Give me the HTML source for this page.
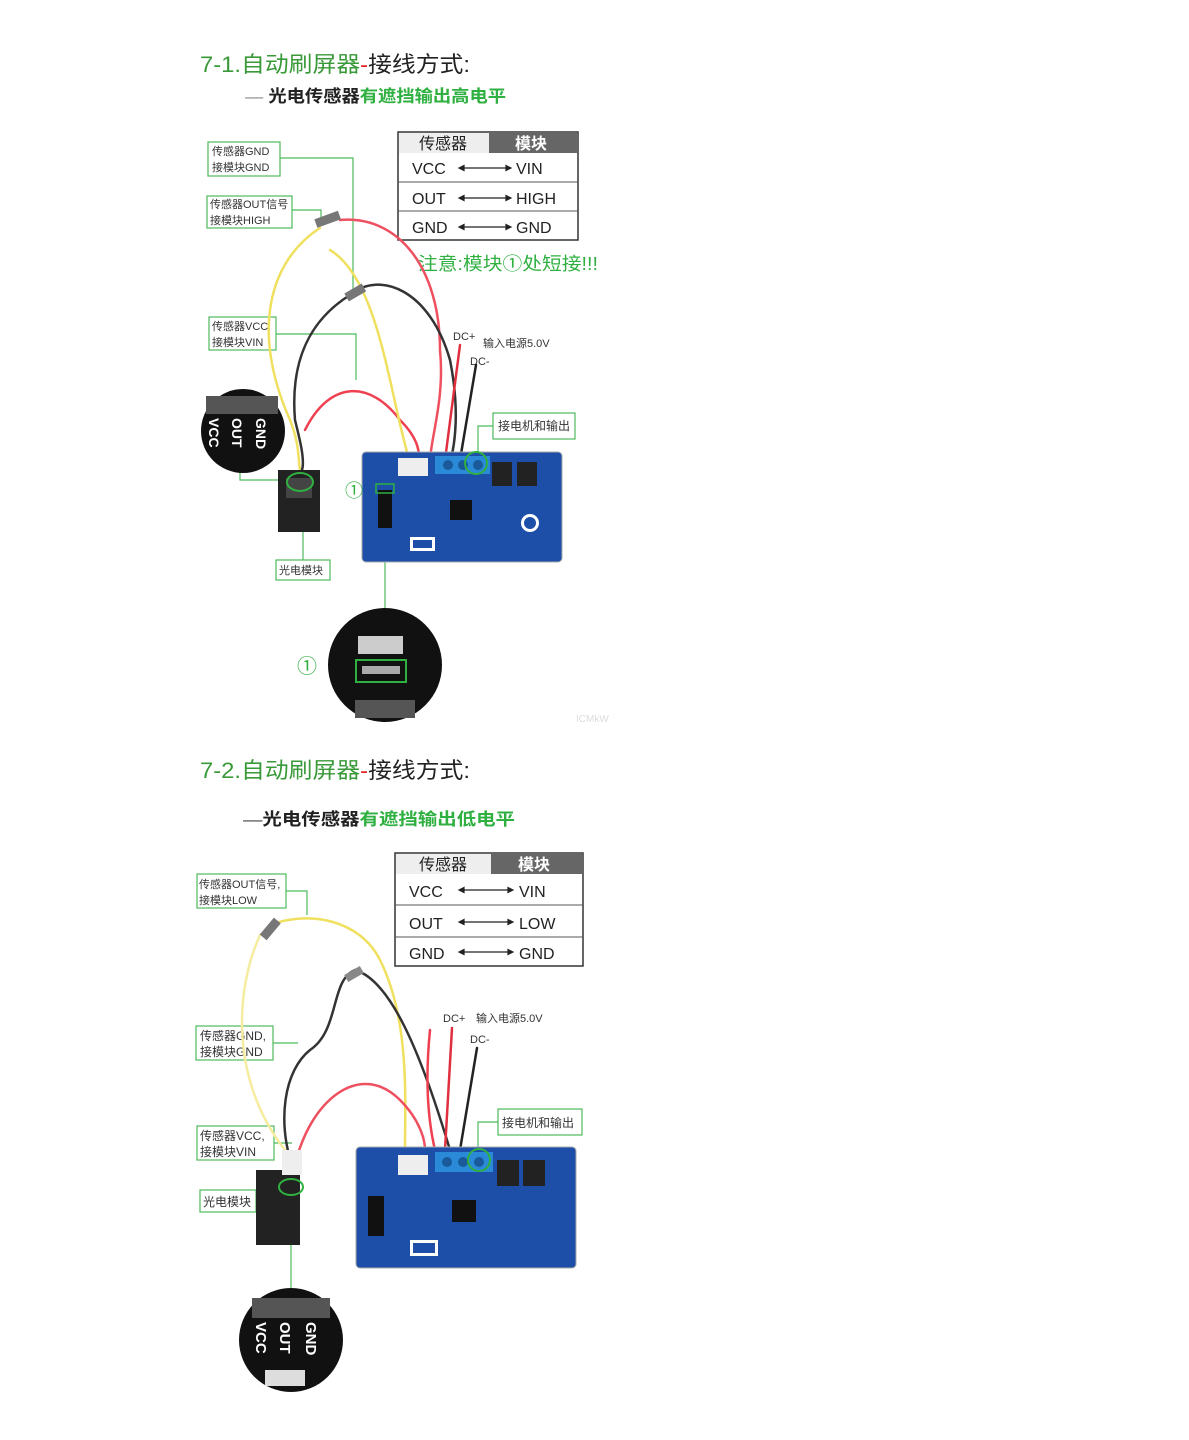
<!DOCTYPE html>
<html><head><meta charset="utf-8"><style>
body{margin:0;background:#fff;}
svg{display:block;}
text{font-family:"Liberation Sans","Noto Sans CJK SC",sans-serif;}
</style></head><body>
<svg width="1189" height="1440" viewBox="0 0 1189 1440" xmlns="http://www.w3.org/2000/svg">
<rect width="1189" height="1440" fill="#fff"/>

<!-- ===== Section 1 ===== -->
<text x="200" y="72" font-size="22" fill="#3a9a3a" textLength="270" lengthAdjust="spacingAndGlyphs">7-1.自动刷屏器<tspan fill="#e02020">-</tspan><tspan fill="#222">接线方式:</tspan></text>
<text x="245" y="102" font-size="17" font-weight="bold" fill="#222" textLength="261" lengthAdjust="spacingAndGlyphs"><tspan fill="#888" font-weight="normal">— </tspan>光电传感器<tspan fill="#2fb040">有遮挡输出高电平</tspan></text>

<rect x="398" y="132" width="180" height="108" fill="#fff" stroke="#333" stroke-width="1.5"/>
<rect x="399" y="133" width="90" height="20" fill="#eee"/>
<rect x="489" y="133" width="88" height="20" fill="#666"/>
<text x="443" y="149" font-size="16" text-anchor="middle" fill="#222">传感器</text>
<text x="531" y="149" font-size="16" text-anchor="middle" fill="#fff" font-weight="bold">模块</text>
<line x1="398" y1="182" x2="578" y2="182" stroke="#555"/>
<line x1="398" y1="211" x2="578" y2="211" stroke="#555"/>
<g font-size="16" fill="#222">
<text x="412" y="174">VCC</text><text x="516" y="174">VIN</text>
<text x="412" y="204">OUT</text><text x="516" y="204">HIGH</text>
<text x="412" y="233">GND</text><text x="516" y="233">GND</text>
</g>
<g stroke="#222" stroke-width="1.2" fill="#222">
<line x1="462" y1="168" x2="508" y2="168"/><path d="M459 168l5-2.5v5z M511 168l-5-2.5v5z"/>
<line x1="462" y1="198" x2="508" y2="198"/><path d="M459 198l5-2.5v5z M511 198l-5-2.5v5z"/>
<line x1="462" y1="227" x2="508" y2="227"/><path d="M459 227l5-2.5v5z M511 227l-5-2.5v5z"/>
</g>
<text x="418" y="270" font-size="18" fill="#2fb040" textLength="180" lengthAdjust="spacingAndGlyphs">注意:模块①处短接!!!</text>

<g fill="#fff" stroke="#4cbb5c" stroke-width="1.2">
<rect x="208" y="142" width="72" height="34"/>
<rect x="207" y="196" width="85" height="32"/>
<rect x="209" y="317" width="67" height="33"/>
<rect x="493" y="413" width="82" height="26"/>
<rect x="276" y="560" width="54" height="20"/>
</g>
<g fill="none" stroke="#4cbb5c" stroke-width="1.2">
<path d="M280 158H353V290"/>
<path d="M292 210H321V222"/>
<path d="M276 334H356V380"/>
<path d="M493 426H478V460"/>
<path d="M303 560V530"/>
<path d="M385 490V608"/>
<path d="M240 470V480H290"/>
</g>
<g font-size="11" fill="#333">
<text x="212" y="155">传感器GND</text><text x="212" y="171">接模块GND</text>
<text x="210" y="208">传感器OUT信号</text><text x="210" y="224">接模块HIGH</text>
<text x="212" y="330">传感器VCC</text><text x="212" y="346">接模块VIN</text>
<text x="498" y="430" font-size="12">接电机和输出</text>
<text x="279" y="574">光电模块</text>
<text x="453" y="340">DC+</text><text x="483" y="347">输入电源5.0V</text><text x="470" y="365">DC-</text>
</g>

<g fill="none" stroke-width="2.5" stroke-linecap="round">
<path d="M320 228C270 260 250 330 290 420C300 445 298 460 300 470" stroke="#f0e060"/>
<path d="M340 220C400 215 440 270 440 350C445 400 430 440 430 462" stroke="#ee5060"/>
<path d="M350 295C380 270 430 290 450 360C460 410 455 445 450 462" stroke="#333"/>
<path d="M350 295C310 320 290 360 295 420C300 440 305 460 302 470" stroke="#333"/>
<path d="M305 430C330 380 370 380 400 420C420 440 420 455 418 462" stroke="#ee4050"/>
<path d="M330 250C380 280 390 400 410 462" stroke="#f0e060"/>
<path d="M460 345L445 460" stroke="#e03040"/>
<path d="M476 365L460 460" stroke="#222"/>
</g>
<rect x="315" y="215" width="25" height="9" fill="#777" transform="rotate(-20 327 219)"/>
<rect x="345" y="288" width="20" height="9" fill="#777" transform="rotate(-30 355 292)"/>

<rect x="362" y="452" width="200" height="110" rx="4" fill="#1d4fa8" stroke="#aaa"/>
<rect x="435" y="456" width="55" height="18" fill="#2a8ad8"/>
<circle cx="448" cy="465" r="5" fill="#1a5a9a"/><circle cx="463" cy="465" r="5" fill="#1a5a9a"/><circle cx="478" cy="465" r="5" fill="#1a5a9a"/>
<rect x="398" y="458" width="30" height="18" fill="#eee"/>
<rect x="492" y="462" width="20" height="24" fill="#222"/><rect x="517" y="462" width="20" height="24" fill="#222"/>
<rect x="450" y="500" width="22" height="20" fill="#111"/>
<rect x="378" y="490" width="14" height="38" fill="#111"/>
<circle cx="530" cy="523" r="9" fill="#fff"/><circle cx="530" cy="523" r="6" fill="#1d4fa8"/>
<rect x="410" y="537" width="25" height="14" fill="#fff"/><rect x="413" y="540" width="19" height="8" fill="#1d4fa8"/>
<circle cx="476" cy="463" r="11" fill="none" stroke="#2fb040" stroke-width="2"/>
<rect x="376" y="484" width="18" height="9" fill="none" stroke="#2fb040" stroke-width="1.5"/>
<text x="345" y="497" font-size="18" fill="#2fb040">①</text>

<circle cx="243" cy="431" r="42" fill="#111"/>
<rect x="206" y="396" width="72" height="18" fill="#555"/>
<g font-size="14" font-weight="bold" fill="#fff" font-family="Liberation Serif,serif">
<text transform="translate(209 418) rotate(90)">VCC</text>
<text transform="translate(232 418) rotate(90)">OUT</text>
<text transform="translate(256 418) rotate(90)">GND</text>
</g>
<rect x="278" y="470" width="42" height="62" fill="#222"/>
<rect x="286" y="478" width="26" height="20" fill="#444"/>
<ellipse cx="300" cy="482" rx="13" ry="9" fill="none" stroke="#2fb040" stroke-width="2"/>

<circle cx="385" cy="665" r="57" fill="#111"/>
<rect x="358" y="636" width="45" height="18" fill="#ccc"/>
<rect x="356" y="660" width="50" height="22" fill="none" stroke="#2fb040" stroke-width="2"/>
<rect x="362" y="666" width="38" height="8" fill="#aaa"/>
<rect x="355" y="700" width="60" height="18" fill="#555"/>
<text x="297" y="673" font-size="20" fill="#2fb040">①</text>
<text x="576" y="722" font-size="10" fill="#ddd">ICMkW</text>

<!-- ===== Section 2 ===== -->
<text x="200" y="778" font-size="22" fill="#3a9a3a" textLength="270" lengthAdjust="spacingAndGlyphs">7-2.自动刷屏器<tspan fill="#e02020">-</tspan><tspan fill="#222">接线方式:</tspan></text>
<text x="243" y="825" font-size="17" font-weight="bold" fill="#222" textLength="272" lengthAdjust="spacingAndGlyphs"><tspan fill="#444" font-weight="normal">—</tspan>光电传感器<tspan fill="#2fb040">有遮挡输出低电平</tspan></text>

<rect x="395" y="853" width="188" height="113" fill="#fff" stroke="#333" stroke-width="1.5"/>
<rect x="396" y="854" width="95" height="20" fill="#eee"/>
<rect x="491" y="854" width="91" height="20" fill="#666"/>
<text x="443" y="870" font-size="16" text-anchor="middle" fill="#222">传感器</text>
<text x="534" y="870" font-size="16" text-anchor="middle" fill="#fff" font-weight="bold">模块</text>
<line x1="395" y1="905" x2="583" y2="905" stroke="#555"/>
<line x1="395" y1="937" x2="583" y2="937" stroke="#555"/>
<g font-size="16" fill="#222">
<text x="409" y="897">VCC</text><text x="519" y="897">VIN</text>
<text x="409" y="929">OUT</text><text x="519" y="929">LOW</text>
<text x="409" y="959">GND</text><text x="519" y="959">GND</text>
</g>
<g stroke="#222" stroke-width="1.2" fill="#222">
<line x1="462" y1="890" x2="510" y2="890"/><path d="M459 890l5-2.5v5z M513 890l-5-2.5v5z"/>
<line x1="462" y1="922" x2="510" y2="922"/><path d="M459 922l5-2.5v5z M513 922l-5-2.5v5z"/>
<line x1="462" y1="952" x2="510" y2="952"/><path d="M459 952l5-2.5v5z M513 952l-5-2.5v5z"/>
</g>

<g fill="#fff" stroke="#4cbb5c" stroke-width="1.2">
<rect x="197" y="874" width="89" height="34"/>
<rect x="196" y="1026" width="77" height="34"/>
<rect x="197" y="1126" width="77" height="34"/>
<rect x="200" y="1190" width="56" height="22"/>
<rect x="498" y="1109" width="84" height="26"/>
</g>
<g fill="none" stroke="#4cbb5c" stroke-width="1.2">
<path d="M286 891H307V915"/>
<path d="M273 1043H298"/>
<path d="M274 1143H292"/>
<path d="M256 1201H262"/>
<path d="M498 1122H478V1148"/>
<path d="M291 1245V1290"/>
</g>
<g font-size="12" fill="#333">
<text x="199" y="888" font-size="11">传感器OUT信号,</text><text x="199" y="904" font-size="11">接模块LOW</text>
<text x="200" y="1040">传感器GND,</text><text x="200" y="1056">接模块GND</text>
<text x="200" y="1140">传感器VCC,</text><text x="200" y="1156">接模块VIN</text>
<text x="203" y="1206">光电模块</text>
<text x="502" y="1127">接电机和输出</text>
<text x="443" y="1022" font-size="11">DC+</text><text x="476" y="1022" font-size="11">输入电源5.0V</text><text x="470" y="1043" font-size="11">DC-</text>
</g>

<g fill="none" stroke-width="2.5" stroke-linecap="round">
<path d="M270 925C310 910 360 920 380 960C410 1020 405 1100 405 1150" stroke="#f0e060"/>
<path d="M260 935C235 990 230 1080 285 1150C295 1165 292 1170 290 1175" stroke="#f5eca0"/>
<path d="M355 970C330 980 340 1030 310 1050C285 1070 275 1120 295 1175" stroke="#333"/>
<path d="M355 970C390 980 420 1050 450 1150" stroke="#333"/>
<path d="M295 1165C310 1100 360 1060 400 1100C420 1120 425 1140 425 1150" stroke="#ee5060"/>
<path d="M430 1030C425 1080 428 1120 435 1150" stroke="#ee4050"/>
<path d="M452 1028L445 1150" stroke="#e03040"/>
<path d="M477 1048L460 1150" stroke="#222"/>
</g>
<rect x="260" y="925" width="22" height="9" fill="#777" transform="rotate(-50 270 930)"/>
<rect x="345" y="970" width="18" height="8" fill="#888" transform="rotate(-30 354 974)"/>

<rect x="356" y="1147" width="220" height="121" rx="4" fill="#1d4fa8" stroke="#aaa"/>
<rect x="435" y="1152" width="58" height="20" fill="#2a8ad8"/>
<circle cx="447" cy="1162" r="5" fill="#1a5a9a"/><circle cx="463" cy="1162" r="5" fill="#1a5a9a"/><circle cx="479" cy="1162" r="5" fill="#1a5a9a"/>
<rect x="398" y="1155" width="30" height="20" fill="#eee"/>
<rect x="497" y="1160" width="22" height="26" fill="#222"/><rect x="523" y="1160" width="22" height="26" fill="#222"/>
<rect x="452" y="1200" width="24" height="22" fill="#111"/>
<rect x="368" y="1196" width="16" height="40" fill="#111"/>
<rect x="410" y="1240" width="28" height="16" fill="#fff"/><rect x="413" y="1243" width="22" height="10" fill="#1d4fa8"/>
<circle cx="479" cy="1160" r="11" fill="none" stroke="#2fb040" stroke-width="2"/>

<rect x="256" y="1170" width="44" height="75" fill="#222"/>
<rect x="282" y="1150" width="20" height="25" fill="#eee"/>
<ellipse cx="291" cy="1187" rx="12" ry="8" fill="none" stroke="#2fb040" stroke-width="2"/>

<circle cx="291" cy="1340" r="52" fill="#111"/>
<rect x="252" y="1298" width="78" height="20" fill="#555"/>
<g font-size="15" font-weight="bold" fill="#fff" font-family="Liberation Serif,serif">
<text transform="translate(256 1322) rotate(90)">VCC</text>
<text transform="translate(280 1322) rotate(90)">OUT</text>
<text transform="translate(306 1322) rotate(90)">GND</text>
</g>
<rect x="265" y="1370" width="40" height="16" fill="#ddd"/>
</svg>
</body></html>
